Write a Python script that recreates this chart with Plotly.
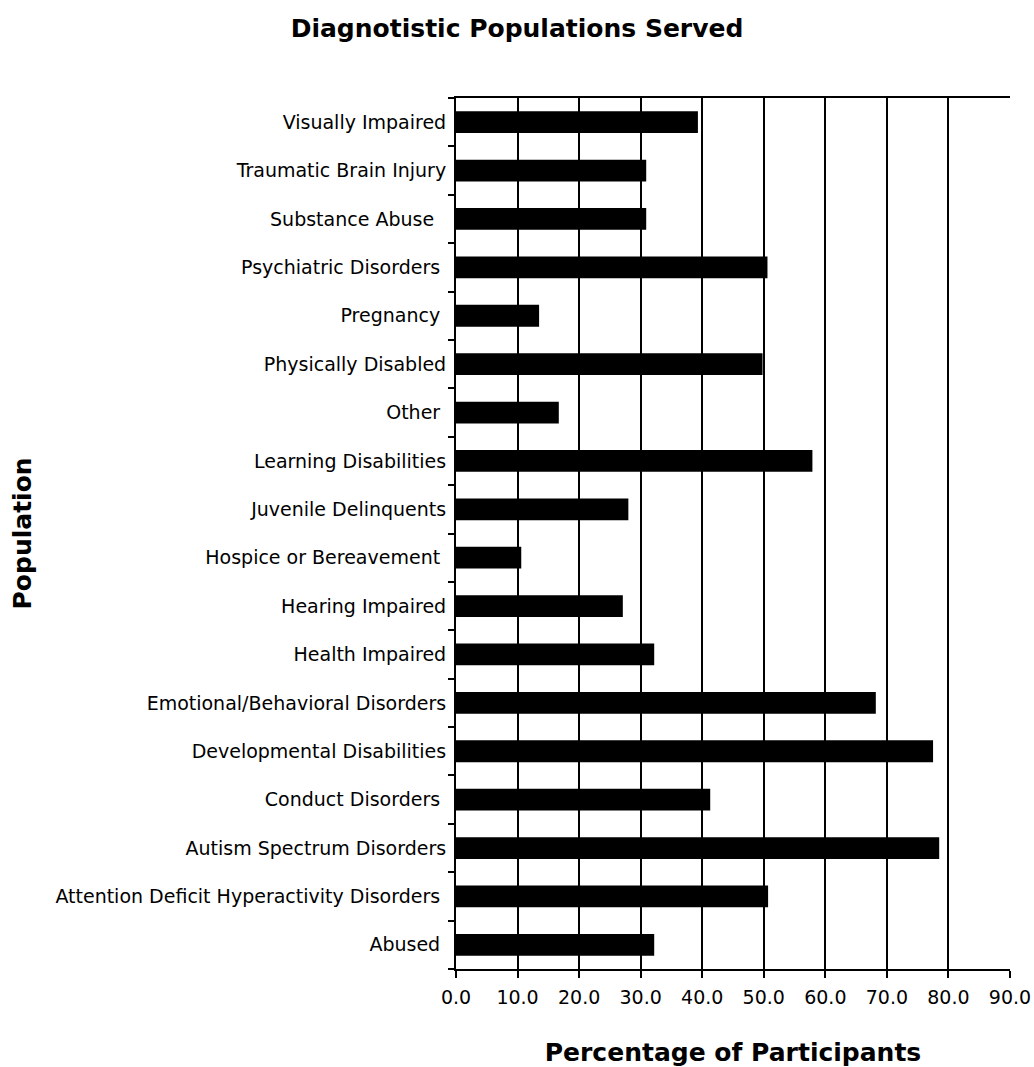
import plotly.graph_objects as go

# Populations listed alphabetically; the first entry sits at the bottom of the axis
populations = [
    "Abused\u00a0",
    "Attention Deficit Hyperactivity Disorders\u00a0",
    "Autism Spectrum Disorders",
    "Conduct Disorders\u00a0",
    "Developmental Disabilities",
    "Emotional/Behavioral Disorders",
    "Health Impaired",
    "Hearing Impaired",
    "Hospice or Bereavement\u00a0",
    "Juvenile Delinquents",
    "Learning Disabilities",
    "Other\u00a0",
    "Physically Disabled",
    "Pregnancy\u00a0",
    "Psychiatric Disorders\u00a0",
    "Substance Abuse\u00a0\u00a0",
    "Traumatic Brain Injury",
    "Visually Impaired",
]
percentages = [
    32.2, 50.7, 78.5, 41.3, 77.5, 68.2, 32.2, 27.1, 10.6,
    28.0, 57.9, 16.7, 49.8, 13.5, 50.6, 30.9, 30.9, 39.3,
]
x_ticks = [0, 10, 20, 30, 40, 50, 60, 70, 80, 90]

FONT = "DejaVu Sans"
W, H = 1034, 1067
M_L, M_R, M_T, M_B = 456, 24, 98, 98

fig = go.Figure(
    go.Bar(
        x=percentages,
        y=populations,
        orientation="h",
        marker=dict(color="black", line=dict(width=0)),
        width=0.45,
        hoverinfo="x+y",
    )
)

fig.update_layout(
    width=W,
    height=H,
    autosize=False,
    margin=dict(l=M_L, r=M_R, t=M_T, b=M_B, pad=0, autoexpand=False),
    paper_bgcolor="white",
    plot_bgcolor="white",
    showlegend=False,
    title=dict(
        text="<b>Diagnotistic Populations Served</b>",
        x=0.5,
        xanchor="center",
        xref="container",
        y=1 - 28 / H,
        yanchor="middle",
        yref="container",
        font=dict(family=FONT, size=25, color="black"),
    ),
    font=dict(family=FONT, color="black"),
)

# vertical axis title, placed at the far left of the page
plot_w = W - M_L - M_R
fig.add_annotation(
    text="<b>Population</b>",
    textangle=-90,
    xref="paper",
    yref="paper",
    x=(22 - M_L) / plot_w,
    y=0.5,
    xanchor="center",
    yanchor="middle",
    showarrow=False,
    font=dict(family=FONT, size=25, color="black"),
)

fig.update_xaxes(
    range=[0, 90],
    tickvals=x_ticks,
    tickformat=".1f",
    automargin=False,
    showgrid=True,
    gridcolor="black",
    gridwidth=1.5,
    zeroline=False,
    showline=True,
    linecolor="black",
    linewidth=2,
    mirror=True,
    ticks="outside",
    ticklen=7,
    tickwidth=1.5,
    tickcolor="black",
    ticklabelstandoff=3,
    tickfont=dict(family=FONT, size=19, color="black"),
    title=dict(
        text="<b>Percentage of Participants</b>",
        font=dict(family=FONT, size=25, color="black"),
        standoff=38,
    ),
)

fig.update_yaxes(
    type="category",
    automargin=False,
    showgrid=False,
    zeroline=False,
    showline=True,
    linecolor="black",
    linewidth=2,
    ticks="outside",
    tickson="boundaries",
    ticklen=6,
    tickwidth=1.5,
    tickcolor="black",
    ticklabelstandoff=4,
    tickfont=dict(family=FONT, size=19, color="black"),
)

fig.write_html("out.html")
